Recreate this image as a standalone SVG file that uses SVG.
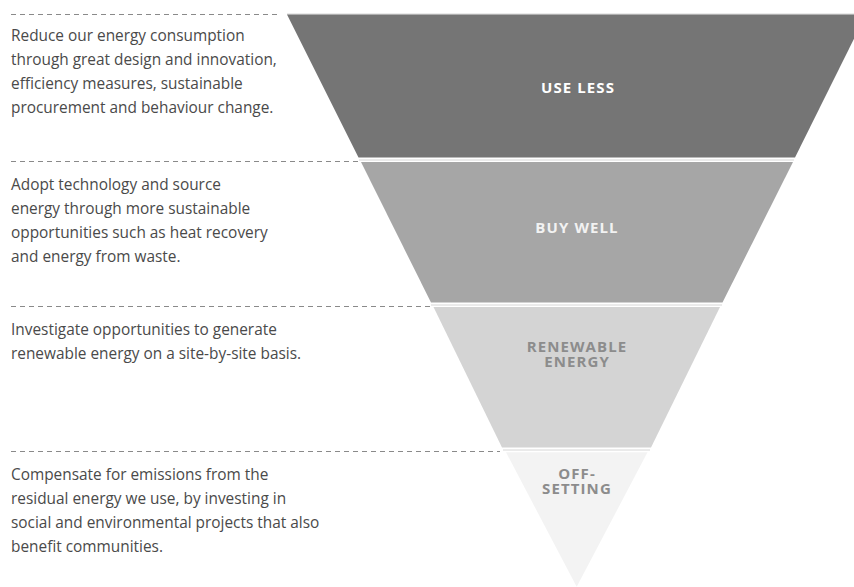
<svg xmlns="http://www.w3.org/2000/svg" width="854" height="587" viewBox="0 0 854 587">
<style>
  .desc { font-family: "Open Sans", Lato, "Liberation Sans", sans-serif; font-size: 15.4px; fill: #4a4a4a; }
  .lbl { font-family: "Open Sans", Lato, "Liberation Sans", sans-serif; font-size: 15px; font-weight: bold; text-anchor: middle; letter-spacing: 1.1px; }
  .dash { stroke: #8a8a8a; stroke-width: 1; stroke-dasharray: 5 4; fill: none; }
  .edge { stroke: #d6d6d6; stroke-width: 1; }
</style>
<rect width="854" height="587" fill="#ffffff"/>
<g id="connectors">
  <line class="dash" x1="11" y1="14.5" x2="281" y2="14.5"/>
  <line class="dash" x1="11" y1="161.5" x2="358" y2="161.5"/>
  <line class="dash" x1="11" y1="306.5" x2="430" y2="306.5"/>
  <line class="dash" x1="11" y1="451.5" x2="500" y2="451.5"/>
</g>
<g id="use-less">
  <line class="edge" x1="287" y1="14" x2="866" y2="14"/>
  <polygon points="287,14.5 866,14.5 795,157.5 358.5,157.5" fill="#757575"/>
  <text class="lbl" x="578" y="92.5" fill="#ffffff">USE LESS</text>
  <text class="desc" x="11" y="41">Reduce our energy consumption</text>
  <text class="desc" x="11" y="65">through great design and innovation,</text>
  <text class="desc" x="11" y="89">efficiency measures, sustainable</text>
  <text class="desc" x="11" y="113">procurement and behaviour change.</text>
</g>
<g id="buy-well">
  <line class="edge" x1="359" y1="160" x2="794" y2="160"/>
  <polygon points="361,162 793,162 722.5,302.5 431,302.5" fill="#a6a6a6"/>
  <text class="lbl" x="577" y="233" fill="#f2f2f2">BUY WELL</text>
  <text class="desc" x="11" y="189.5">Adopt technology and source</text>
  <text class="desc" x="11" y="213.5">energy through more sustainable</text>
  <text class="desc" x="11" y="237.5">opportunities such as heat recovery</text>
  <text class="desc" x="11" y="261.5">and energy from waste.</text>
</g>
<g id="renewable-energy">
  <line class="edge" x1="431" y1="305" x2="722" y2="305"/>
  <polygon points="433.5,307 720,307 651,447.5 502,447.5" fill="#d4d4d4"/>
  <text class="lbl" x="577" y="352" fill="#8c8c8c">RENEWABLE</text>
  <text class="lbl" x="577" y="367" fill="#8c8c8c">ENERGY</text>
  <text class="desc" x="11" y="334.5">Investigate opportunities to generate</text>
  <text class="desc" x="11" y="358.5">renewable energy on a site-by-site basis.</text>
</g>
<g id="off-setting">
  <line class="edge" x1="503" y1="450" x2="650" y2="450"/>
  <polygon points="506,452.3 647.5,452.3 576.7,586.7" fill="#f3f3f3"/>
  <text class="lbl" x="577" y="478.5" fill="#8c8c8c">OFF-</text>
  <text class="lbl" x="577" y="493.5" fill="#8c8c8c">SETTING</text>
  <text class="desc" x="11" y="479.5">Compensate for emissions from the</text>
  <text class="desc" x="11" y="503.5">residual energy we use, by investing in</text>
  <text class="desc" x="11" y="527.5">social and environmental projects that also</text>
  <text class="desc" x="11" y="551.5">benefit communities.</text>
</g>
</svg>
